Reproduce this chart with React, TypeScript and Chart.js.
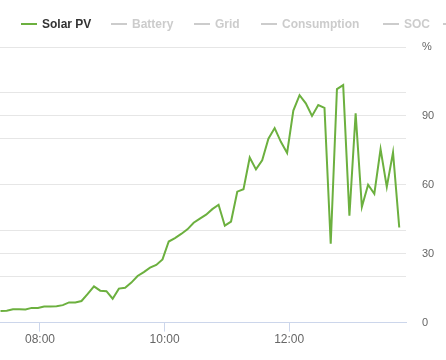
import React, { useEffect, useRef } from "react";
import { Chart, registerables } from "chart.js";

Chart.register(...registerables);

const times: string[] = [
  "07:22", "07:28", "07:34", "07:40", "07:46", "07:52", "07:58",
  "08:04", "08:10", "08:16", "08:22", "08:28", "08:34", "08:40", "08:46", "08:52", "08:58",
  "09:04", "09:10", "09:16", "09:22", "09:28", "09:34", "09:40", "09:46", "09:52", "09:58",
  "10:04", "10:10", "10:16", "10:22", "10:28", "10:34", "10:40", "10:46", "10:52", "10:58",
  "11:04", "11:10", "11:16", "11:22", "11:28", "11:34", "11:40", "11:46", "11:52", "11:58",
  "12:04", "12:10", "12:16", "12:22", "12:28", "12:34", "12:40", "12:46", "12:52", "12:58",
  "13:04", "13:10", "13:16", "13:22", "13:28", "13:34", "13:40", "13:46",
];

const solarPV: number[] = [
  5.1, 5.2, 5.8, 5.8, 5.7, 6.4, 6.4, 7.0, 7.0, 7.1,
  7.6, 8.8, 8.8, 9.4, 12.5, 15.8, 13.9, 13.7, 10.4, 14.8,
  15.2, 17.4, 20.3, 22.0, 23.9, 25.1, 27.5, 35.3, 36.8, 38.6,
  40.6, 43.5, 45.3, 47.0, 49.4, 51.3, 42.2, 44.0, 57.0, 58.1,
  71.9, 66.7, 70.7, 80.1, 84.7, 78.7, 73.9, 92.3, 99.0, 95.5,
  90.0, 94.7, 93.5, 34.3, 101.7, 103.4, 46.5, 91.1, 50.4, 60.0,
  56.1, 75.5, 59.1, 74.1, 41.4,
];

const legendNames: string[] = ["Solar PV", "Battery", "Grid", "Consumption", "SOC"];
const legendActive: boolean[] = [true, false, false, false, false];
const xTickLabels: string[] = ["08:00", "10:00", "12:00"];
const pctTicks: number[] = [0, 30, 60, 90, 120];

const GREEN = "#6cb03f";
const HIDDEN = "#cccccc";

const toMin = (s: string) => {
  const [h, m] = s.split(":").map(Number);
  return h * 60 + m;
};

const legendLeft = [21, 111, 194, 261, 383];

export default function App() {
  const ref = useRef<HTMLCanvasElement>(null);

  useEffect(() => {
    const ctx = ref.current!;
    const pts = times.map((t, i) => ({ x: toMin(t), y: solarPV[i] }));
    const xTickVals = xTickLabels.map(toMin);
    const chart = new Chart(ctx, {
      type: "line",
      data: {
        datasets: [
          {
            label: "Solar PV",
            data: pts,
            borderColor: GREEN,
            backgroundColor: GREEN,
            borderWidth: 2,
            pointRadius: 0,
            tension: 0,
            yAxisID: "yPct",
          },
        ],
      },
      options: {
        animation: false,
        responsive: false,
        maintainAspectRatio: false,
        layout: { padding: { top: 47, left: 0, right: 0, bottom: 12 } },
        plugins: { legend: { display: false }, tooltip: { enabled: false } },
        scales: {
          x: {
            type: "linear",
            min: 441.5,
            max: 832.5,
            grid: {
              drawOnChartArea: false,
              drawTicks: true,
              tickLength: 9,
              color: "#ccd6eb",
            },
            border: { display: true, color: "#ccd6eb" },
            afterBuildTicks: (s: any) => {
              s.ticks = xTickVals.map((v) => ({ value: v }));
            },
            ticks: {
              autoSkip: false,
              maxRotation: 0,
              padding: 1,
              color: "#666666",
              font: { family: "'Liberation Sans', Arial, sans-serif", size: 12 },
              callback: (v: any) => {
                const h = Math.floor(Number(v) / 60);
                const m = Number(v) % 60;
                return `${String(h).padStart(2, "0")}:${String(m).padStart(2, "0")}`;
              },
            },
          },
          yGrid: {
            position: "left",
            min: 0,
            max: 6,
            grid: {
              color: (c: any) => (c.tick && c.tick.value === 0 ? "rgba(0,0,0,0)" : "#e6e6e6"),
              drawTicks: false,
              lineWidth: 1,
            },
            border: { display: false },
            ticks: { display: false, stepSize: 1 },
            afterFit: (s: any) => {
              s.width = 0;
            },
          },
          yPct: {
            position: "right",
            min: 0,
            max: 120,
            afterBuildTicks: (s: any) => {
              s.ticks = pctTicks.map((v) => ({ value: v }));
            },
            afterFit: (s: any) => {
              s.width = 40;
            },
            grid: {
              color: (c: any) => (c.tick && c.tick.value === 0 ? "rgba(0,0,0,0)" : "#e6e6e6"),
              drawTicks: false,
              lineWidth: 1,
            },
            border: { display: false },
            ticks: {
              padding: 16,
              crossAlign: "near",
              color: "#666666",
              font: { family: "'Liberation Sans', Arial, sans-serif", size: 11 },
              callback: (v: any) => (Number(v) === 120 ? "%" : String(v)),
            },
          },
        },
      },
    } as any);
    return () => chart.destroy();
  }, []);

  return (
    <div
      style={{
        position: "fixed",
        left: 0,
        top: 0,
        width: 446,
        height: 360,
        background: "#ffffff",
        overflow: "hidden",
        fontFamily: "'Liberation Sans', Arial, sans-serif",
      }}
    >
      <canvas ref={ref} width={446} height={360} style={{ position: "absolute", left: 0, top: 0 }} />
      {legendNames.map((name, i) => {
        const col = legendActive[i] ? GREEN : HIDDEN;
        const txt = legendActive[i] ? "#333333" : HIDDEN;
        return (
          <div
            key={name}
            style={{
              position: "absolute",
              left: legendLeft[i],
              top: 16,
              height: 16,
              display: "flex",
              alignItems: "center",
              whiteSpace: "nowrap",
            }}
          >
            <span style={{ display: "inline-block", width: 16, height: 2, background: col, marginRight: 5 }} />
            <span style={{ fontSize: 12, fontWeight: "bold", color: txt, lineHeight: "16px" }}>{name}</span>
          </div>
        );
      })}
      <span
        style={{ position: "absolute", left: 443, top: 23, width: 16, height: 2, background: HIDDEN }}
      />
    </div>
  );
}
